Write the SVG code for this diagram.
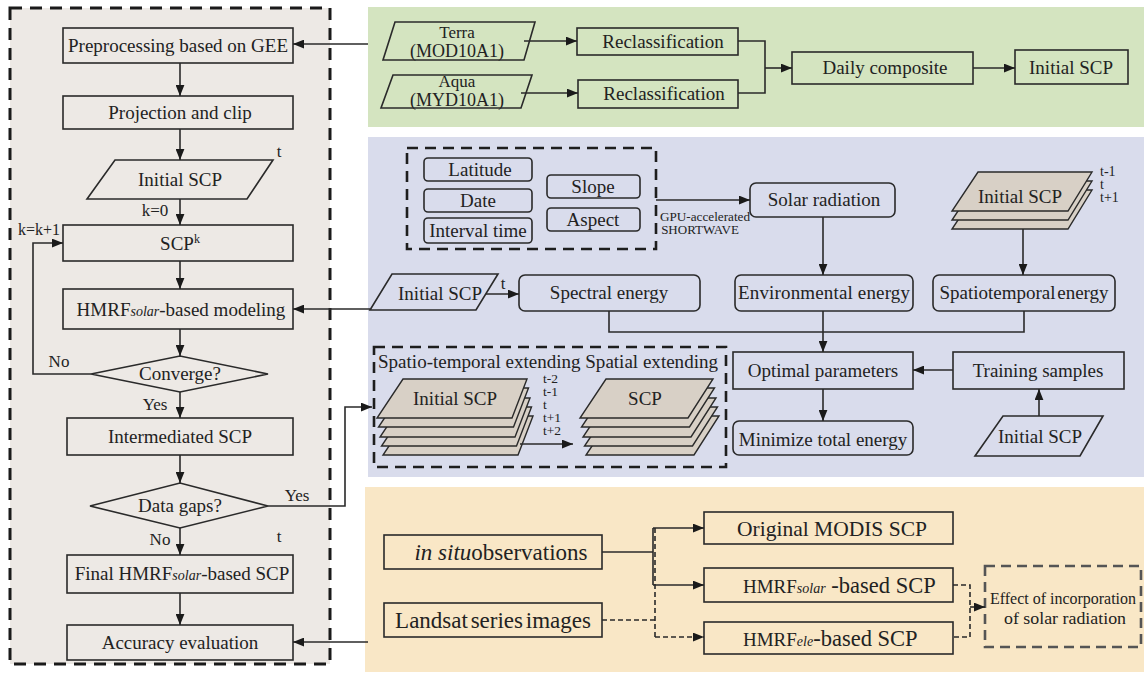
<svg xmlns="http://www.w3.org/2000/svg" width="1144" height="677" viewBox="0 0 1144 677">
<style>
.bx{fill:none;stroke:#2a2a2a;stroke-width:1.6}
.st{fill:#D8D0C6;stroke:#2a2a2a;stroke-width:1.4}
.t{font-family:"Liberation Serif","Times New Roman",serif;font-size:19px;fill:#222;text-anchor:middle}
.s{font-size:17px}
.l{text-anchor:start}
.it{font-style:italic}
.ln{fill:none;stroke:#2a2a2a;stroke-width:1.6}
.ar{marker-end:url(#ah)}
.ds{stroke-dasharray:5 3}
.dbox{fill:none;stroke:#1e1e1e;stroke-width:2.6;stroke-dasharray:11 7}
</style>
<defs>
<marker id="ah" viewBox="0 0 10 8" refX="10" refY="4" markerWidth="11" markerHeight="9" markerUnits="userSpaceOnUse" orient="auto"><path d="M0,0L10,4L0,8z" fill="#1a1a1a"/></marker>
</defs>
<rect width="1144" height="677" fill="#fff"/>
<g id="panels">
<rect x="10" y="8" width="320" height="656" fill="#EDE9E5" stroke="#1a1a1a" stroke-width="3" stroke-dasharray="12 8"/>
<rect x="368" y="7" width="776" height="120" fill="#D4E4C0"/>
<rect x="368" y="137" width="776" height="340" fill="#D9DCEC"/>
<rect x="365" y="487" width="779" height="185" fill="#F9E7C6"/>
</g>
<g id="preprocess"><rect class="bx" x="63" y="28" width="230" height="35"/><text class="t" x="178" y="52">Preprocessing based on GEE</text></g>
<g id="projection"><rect class="bx" x="63" y="96" width="230" height="33"/><text class="t" x="180" y="119">Projection and clip</text></g>
<g id="initial1"><polygon class="bx" points="115,160 273,160 247,199 87,199"/><text class="t" x="180" y="186">Initial SCP</text><text class="t s" x="279" y="157">t</text></g>
<g id="scpk"><rect class="bx" x="63" y="225" width="230" height="36"/><text class="t" x="180" y="250">SCP<tspan font-size="12" dy="-7">k</tspan></text></g>
<g id="hmrfmodel"><rect class="bx" x="63" y="289" width="230" height="40"/><text class="t" x="181" y="316">HMRF<tspan class="it" font-size="14">solar</tspan>-based modeling</text></g>
<g id="converge"><polygon class="bx" points="91,374 180,356 268,374 180,392"/><text class="t" x="180" y="380">Converge?</text></g>
<g id="intermediate"><rect class="bx" x="67" y="418" width="226" height="37"/><text class="t" x="180" y="443">Intermediated SCP</text></g>
<g id="datagaps"><polygon class="bx" points="90,506 180,483 268,506 180,528"/><text class="t" x="180" y="512">Data gaps?</text></g>
<g id="final"><rect class="bx" x="67" y="555" width="226" height="38"/><text class="t" x="182" y="580">Final HMRF<tspan class="it" font-size="14">solar</tspan>-based SCP</text><text class="t s" x="279" y="542">t</text></g>
<g id="accuracy"><rect class="bx" x="67" y="625" width="226" height="35"/><text class="t" x="180" y="649">Accuracy evaluation</text></g>
<g id="terra"><polygon class="bx" points="395,22 535,22 524,60 383,60"/><text class="t s" x="457" y="38">Terra</text><text class="t" x="457" y="57" style="font-size:18px">(MOD10A1)</text></g>
<g id="aqua"><polygon class="bx" points="393,75 532,75 521,108 381,108"/><text class="t s" x="457" y="87">Aqua</text><text class="t" x="457" y="106" style="font-size:18px">(MYD10A1)</text></g>
<g id="reclass1"><rect class="bx" x="577" y="28" width="161" height="27"/><text class="t" x="663" y="48">Reclassification</text></g>
<g id="reclass2"><rect class="bx" x="578" y="80" width="160" height="28"/><text class="t" x="664" y="100">Reclassification</text></g>
<g id="daily"><rect class="bx" x="792" y="52" width="181" height="32"/><text class="t" x="885" y="74">Daily composite</text></g>
<g id="initial2"><rect class="bx" x="1015" y="50" width="113" height="34"/><text class="t" x="1071" y="74">Initial SCP</text></g>
<g id="params"><rect class="dbox" x="407" y="148" width="249" height="101"/>
<rect class="bx" x="424" y="158" width="108" height="23" rx="4"/><text class="t" x="480" y="176">Latitude</text>
<rect class="bx" x="424" y="189" width="108" height="23" rx="4"/><text class="t" x="478" y="207">Date</text>
<rect class="bx" x="424" y="218" width="108" height="25" rx="4"/><text class="t" x="478" y="237">Interval time</text>
<rect class="bx" x="547" y="175" width="93" height="23" rx="4"/><text class="t" x="593" y="193">Slope</text>
<rect class="bx" x="547" y="208" width="93" height="23" rx="4"/><text class="t" x="593" y="226">Aspect</text></g>
<g id="gpu"><text class="t" x="705" y="221" style="font-size:13px" textLength="90" lengthAdjust="spacingAndGlyphs">GPU-accelerated</text><text class="t" x="700" y="234" style="font-size:13px">SHORTWAVE</text></g>
<g id="solar"><rect class="bx" x="750" y="183" width="145" height="34" rx="6"/><text class="t" x="824" y="206">Solar radiation</text></g>
<g id="stack3">
<polygon class="st" points="978,190 1092,190 1068,229 952,229"/>
<polygon class="st" points="978,181 1092,181 1068,220 952,220"/>
<polygon class="st" points="978,172 1092,172 1068,211 952,211"/>
<text class="t" x="1020" y="203">Initial SCP</text>
<text class="t l" style="font-size:14px"><tspan x="1100" y="176">t-1</tspan><tspan x="1100" y="189">t</tspan><tspan x="1100" y="202">t+1</tspan></text></g>
<g id="initial3"><polygon class="bx" points="392,274 498,274 476,310 370,310"/><text class="t" x="440" y="300">Initial SCP</text><text class="t s" x="503" y="289">t</text></g>
<g id="spectral"><rect class="bx" x="519" y="275" width="181" height="36" rx="6"/><text class="t" x="609" y="299">Spectral energy</text></g>
<g id="environmental"><rect class="bx" x="735" y="275" width="178" height="36" rx="6"/><text class="t" x="824" y="299" textLength="172" lengthAdjust="spacing">Environmental energy</text></g>
<g id="spatiotemporal"><rect class="bx" x="933" y="275" width="182" height="36" rx="6"/><text class="t" x="1024" y="299" word-spacing="-3">Spatiotemporal energy</text></g>
<g id="optimal"><rect class="bx" x="733" y="352" width="180" height="37"/><text class="t" x="823" y="377">Optimal parameters</text></g>
<g id="training"><rect class="bx" x="953" y="352" width="171" height="37"/><text class="t" x="1038" y="377">Training samples</text></g>
<g id="initial4"><polygon class="bx" points="1003,416 1103,416 1080,456 975,456"/><text class="t" x="1040" y="443">Initial SCP</text></g>
<g id="minimize"><rect class="bx" x="733" y="421" width="180" height="34" rx="6"/><text class="t" x="823" y="446">Minimize total energy</text></g>
<g id="extending"><rect class="dbox" x="374" y="347" width="352" height="120" stroke="#333" stroke-width="2.4"/>
<text class="t l" x="378" y="368" textLength="340" lengthAdjust="spacingAndGlyphs">Spatio-temporal extending Spatial extending</text>
<polygon class="st" points="409,416 533,416 518,455 383,455"/>
<polygon class="st" points="407.5,407 531.5,407 516.5,446 381.5,446"/>
<polygon class="st" points="406,398 530,398 515,437 380,437"/>
<polygon class="st" points="404.5,388 528.5,388 513.5,427 378.5,427"/>
<polygon class="st" points="403,379 527,379 512,418 377,418"/>
<text class="t" x="455" y="405">Initial SCP</text>
<text class="t l" style="font-size:13.5px"><tspan x="543" y="383">t-2</tspan><tspan x="543" y="396">t-1</tspan><tspan x="543" y="409">t</tspan><tspan x="543" y="422">t+1</tspan><tspan x="543" y="435">t+2</tspan></text>
<polygon class="st" points="612,416 719,416 694,455 586,455"/>
<polygon class="st" points="610.5,407 717.5,407 692.5,446 584.5,446"/>
<polygon class="st" points="609,398 716,398 691,437 583,437"/>
<polygon class="st" points="607.5,388 714.5,388 689.5,427 581.5,427"/>
<polygon class="st" points="606,379 713,379 688,418 580,418"/>
<text class="t" x="645" y="405">SCP</text></g>
<g id="insitu"><rect class="bx" x="384" y="535" width="218" height="34"/><text class="t" x="501" y="560" style="font-size:23px"><tspan class="it">in situ</tspan>observations</text></g>
<g id="landsat"><rect class="bx" x="384" y="603" width="218" height="34"/><text class="t" x="493" y="628" style="font-size:23px" word-spacing="-3">Landsat series images</text></g>
<g id="original"><rect class="bx" x="704" y="512" width="249" height="32"/><text class="t" x="832" y="536" style="font-size:21.5px">Original MODIS SCP</text></g>
<g id="hmrfsolar"><rect class="bx" x="704" y="568" width="249" height="34"/><text class="t l" x="743" y="593">HMRF<tspan class="it" font-size="14">solar</tspan><tspan font-size="22.5"> -based SCP</tspan></text></g>
<g id="hmrfele"><rect class="bx" x="704" y="622" width="249" height="32"/><text class="t l" x="743" y="646">HMRF<tspan class="it" font-size="14">ele</tspan><tspan font-size="22.5">-based SCP</tspan></text></g>
<g id="effect"><rect x="985" y="566" width="156" height="81" fill="none" stroke="#555" stroke-width="2.6" stroke-dasharray="10 6"/>
<text class="t" x="1063" y="604" style="font-size:17px" textLength="146" lengthAdjust="spacingAndGlyphs">Effect of incorporation</text>
<text class="t" x="1065" y="624" style="font-size:17px" textLength="122" lengthAdjust="spacingAndGlyphs">of solar radiation</text></g>
<g id="connectors">
<line class="ln ar" x1="180" y1="63" x2="180" y2="96"/>
<line class="ln ar" x1="180" y1="129" x2="180" y2="160"/>
<line class="ln ar" x1="180" y1="199" x2="180" y2="225"/>
<line class="ln ar" x1="180" y1="261" x2="180" y2="289"/>
<line class="ln ar" x1="180" y1="329" x2="180" y2="356"/>
<polyline class="ln ar" points="91,374 33,374 33,243 63,243"/>
<line class="ln ar" x1="180" y1="392" x2="180" y2="418"/>
<line class="ln ar" x1="180" y1="455" x2="180" y2="483"/>
<polyline class="ln ar" points="268,506 345,506 345,407 372,407"/>
<line class="ln ar" x1="180" y1="528" x2="180" y2="555"/>
<line class="ln ar" x1="180" y1="593" x2="180" y2="625"/>
<line class="ln ar" x1="368" y1="44" x2="293" y2="44"/>
<line class="ln ar" x1="370" y1="309" x2="293" y2="309"/>
<line class="ln ar" x1="368" y1="642" x2="293" y2="642"/>
<line class="ln ar" x1="524" y1="41" x2="577" y2="41"/>
<line class="ln ar" x1="521" y1="93" x2="578" y2="93"/>
<polyline class="ln" points="738,41 765,41 765,93 738,93"/>
<line class="ln ar" x1="765" y1="68" x2="792" y2="68"/>
<line class="ln ar" x1="973" y1="68" x2="1015" y2="68"/>
<line class="ln ar" x1="656" y1="200" x2="750" y2="200"/>
<line class="ln ar" x1="823" y1="217" x2="823" y2="275"/>
<line class="ln ar" x1="1023" y1="229" x2="1023" y2="275"/>
<line class="ln ar" x1="486" y1="294" x2="519" y2="294"/>
<polyline class="ln" points="609,311 609,332 1024,332 1024,311"/>
<line class="ln ar" x1="823" y1="311" x2="823" y2="352"/>
<line class="ln ar" x1="953" y1="370" x2="913" y2="370"/>
<line class="ln ar" x1="1039" y1="416" x2="1039" y2="389"/>
<line class="ln ar" x1="823" y1="389" x2="823" y2="421"/>
<line class="ln ar" x1="520" y1="444" x2="573" y2="444"/>
<line class="ln" x1="602" y1="552" x2="653" y2="552"/>
<line class="ln" x1="653" y1="528" x2="653" y2="585"/>
<line class="ln ar" x1="653" y1="528" x2="704" y2="528"/>
<line class="ln ar" x1="653" y1="585" x2="704" y2="585"/>
<line class="ln ds" x1="602" y1="620" x2="655" y2="620"/>
<line class="ln ds" x1="655" y1="528" x2="655" y2="637"/>
<line class="ln ds ar" x1="655" y1="637" x2="704" y2="637"/>
<polyline class="ln ds" points="953,585 970,585 970,637 953,637"/>
<line class="ln ar" x1="970" y1="607" x2="985" y2="607"/>
</g>
<g id="labels">
<text class="t s" x="155" y="216">k=0</text>
<text class="t" x="39" y="235" style="font-size:16px">k=k+1</text>
<text class="t s" x="59" y="367">No</text>
<text class="t s" x="155" y="410">Yes</text>
<text class="t s" x="297" y="501">Yes</text>
<text class="t s" x="160" y="545">No</text>
</g>
</svg>
